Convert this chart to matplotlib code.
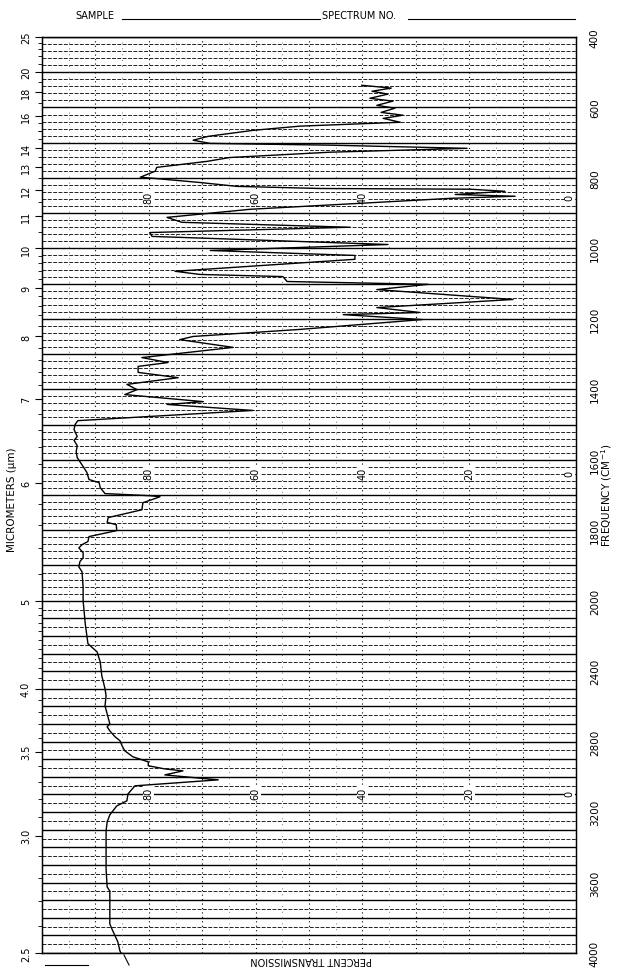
import numpy as np
import matplotlib.pyplot as plt
from matplotlib.lines import Line2D

# 光谱数据: 波数 (cm-1) 与透过率 (%), 从扫描图读取
wavenumber = [537, 545, 554, 562, 574, 582, 594, 602, 614, 622, 631, 642, 653, 665,
              682, 693, 702, 707, 716, 727, 742, 753, 770, 781, 798, 801, 813, 824,
              830, 832, 838, 847, 852, 858, 869, 889, 912, 926, 940, 955, 966, 989,
              1006, 1020, 1031, 1065, 1074, 1080, 1094, 1102, 1117, 1145, 1168, 1182,
              1188, 1202, 1230, 1250, 1259, 1281, 1310, 1324, 1335, 1352, 1367, 1386,
              1401, 1415, 1435, 1443, 1460, 1489, 1500, 1514, 1534, 1545, 1560, 1577,
              1594, 1619, 1636, 1656, 1665, 1679, 1696, 1702, 1705, 1722, 1742, 1764,
              1778, 1784, 1801, 1818, 1832, 1841, 1850, 1864, 1878, 1889, 1904, 1918,
              1963, 2000, 2131, 2244, 2290, 2347, 2426, 2500, 2540, 2597, 2642, 2699,
              2716, 2739, 2773, 2795, 2824, 2852, 2886, 2915, 2937, 2955, 2966, 2989,
              3017, 3051, 3097, 3136, 3165, 3216, 3256, 3307, 3523, 3625, 3648, 3835,
              3864, 3937, 3989, 4000]
transmission = [40.1, 34.6, 38.2, 35.2, 38.6, 34.3, 37.3, 33.9, 36.5, 32.4, 36.1, 32.9,
                51.7, 60.5, 68.9, 71.7, 68.5, 46.1, 20.4, 46.1, 64.8, 69.1, 78.5, 78.8,
                81.6, 79.2, 70.4, 63.5, 47.9, 19.8, 13.3, 22.6, 11.4, 23.6, 36.7, 61.0,
                76.6, 73.8, 42.3, 79.8, 79.4, 35.2, 68.5, 41.4, 41.4, 75.1, 70.4, 54.9,
                54.1, 27.7, 37.3, 11.8, 37.3, 29.2, 43.6, 28.8, 51.7, 71.7, 74.2, 64.2,
                81.3, 76.4, 82.0, 82.0, 74.5, 84.1, 82.2, 84.5, 69.8, 76.6, 60.5, 93.3,
                93.8, 94.0, 93.4, 94.0, 93.4, 93.6, 93.4, 92.3, 91.6, 91.2, 89.3, 89.1,
                88.2, 79.8, 77.9, 81.1, 81.3, 87.6, 87.8, 86.1, 86.0, 91.2, 91.4, 92.5,
                93.1, 92.3, 92.3, 92.9, 93.1, 92.5, 92.3, 92.3, 91.9, 91.4, 89.7, 89.1,
                88.8, 88.2, 88.0, 88.2, 87.8, 87.3, 87.8, 87.3, 86.3, 85.4, 85.0, 84.5,
                83.0, 80.1, 80.1, 77.0, 73.6, 77.0, 67.0, 82.6, 83.9, 84.1, 86.0, 87.3,
                87.8, 88.0, 88.0, 87.8, 87.3, 87.3, 86.9, 85.8, 85.4, 85.2]

# 刻度
micron_ticks = [25, 20, 18, 16, 14, 13, 12, 11, 10, 9, 8, 7, 6, 5, 4.0, 3.5, 3.0, 2.5]
micron_labels = ['25', '20', '18', '16', '14', '13', '12', '11', '10', '9', '8', '7',
                 '6', '5', '4.0', '3.5', '3.0', '2.5']
freq_ticks = [400, 600, 800, 1000, 1200, 1400, 1600, 1800, 2000, 2400, 2800, 3200,
              3600, 4000]
percent_rows = [855, 1636, 3091]
percent_row_labels = [[80, 60, 40, 0], [80, 60, 40, 20, 0], [80, 60, 40, 20, 0]]


def fwd(nu):
    nu = np.asarray(nu, dtype=float)
    return np.where(nu <= 2000, nu, 2000 + (nu - 2000) / 2)


def inv(u):
    u = np.asarray(u, dtype=float)
    return np.where(u <= 2000, u, 2000 + (u - 2000) * 2)


fig = plt.figure(figsize=(6.17, 9.70), dpi=100)
ax = fig.add_axes([42 / 617, 1 - 954 / 970, (576 - 42) / 617, (954 - 38) / 970])
ax.set_yscale('function', functions=(fwd, inv))
ax.set_ylim(4000, 400)
ax.set_xlim(100, 0)

# 横向网格: 低频每20, 高频每50, 整百为实线
grid_nu = list(range(400, 2000, 20)) + list(range(2000, 4001, 50))
for nu in grid_nu:
    if nu % 100 == 0:
        ax.axhline(nu, color='black', lw=1.0, zorder=1)
    else:
        ax.axhline(nu, color='#222222', lw=0.7, ls=(0, (4, 1.5)), zorder=1)

# 纵向点线网格
for t in range(5, 100, 5):
    if t % 10 == 0:
        ax.axvline(t, color='black', lw=0.8, ls=(0, (1, 3)), zorder=1)
    else:
        ax.axvline(t, color='#444444', lw=0.6, ls=(0, (1, 6)), zorder=1)

# 百分比标注
for nu, labels in zip(percent_rows, percent_row_labels):
    for t in labels:
        xpos = max(t, 1.2)
        ax.text(xpos, nu, str(t), rotation=90, ha='center', va='center', fontsize=7,
                zorder=2, bbox=dict(facecolor='white', edgecolor='none', pad=0.3))

ax.plot(transmission, wavenumber, color='black', lw=1.0, zorder=3)

# 左侧微米刻度
ax.set_xticks([])
ax.set_yticks([10000 / m for m in micron_ticks])
ax.set_yticklabels(micron_labels, rotation=90, va='center', fontsize=7)
minor_um = list(np.arange(2.6, 5.0, 0.1)) + list(np.arange(5.2, 10, 0.2)) + \
    list(np.arange(10.5, 16, 0.5)) + [15, 17, 19, 21, 22, 23, 24]
ax.set_yticks([10000 / m for m in minor_um], minor=True)
ax.tick_params(axis='y', which='major', length=5, width=0.8, pad=3)
ax.tick_params(axis='y', which='minor', length=3, width=0.6)
for s in ax.spines.values():
    s.set_linewidth(1.0)

# 右侧波数刻度
ax2 = ax.twinx()
ax2.set_yscale('function', functions=(fwd, inv))
ax2.set_ylim(4000, 400)
ax2.set_yticks(freq_ticks)
ax2.set_yticklabels([str(f) for f in freq_ticks], rotation=90, va='center', fontsize=7.5)
ax2.tick_params(axis='y', length=0, pad=10)
ax2.yaxis.set_minor_locator(plt.NullLocator())

fig.text(12 / 617, 1 - 500 / 970, 'MICROMETERS (\u00b5m)', rotation=90, ha='center',
         va='center', fontsize=7.5)
fig.text(607 / 617, 1 - 495 / 970, 'FREQUENCY (CM$^{-1}$)', rotation=90, ha='center',
         va='center', fontsize=7.5)
fig.text(311 / 617, 1 - 960 / 970, 'PERCENT TRANSMISSION', rotation=180, ha='center',
         va='center', fontsize=7)

# 表头
fig.text(75 / 617, 1 - 16 / 970, 'SAMPLE', ha='left', va='center', fontsize=7)
fig.text(322 / 617, 1 - 16 / 970, 'SPECTRUM NO.', ha='left', va='center', fontsize=7)
fig.add_artist(Line2D([122 / 617, 320 / 617], [1 - 20 / 970] * 2, color='black', lw=0.8))
fig.add_artist(Line2D([408 / 617, 575 / 617], [1 - 20 / 970] * 2, color='black', lw=0.8))
fig.add_artist(Line2D([45 / 617, 88 / 617], [1 - 966 / 970] * 2, color='black', lw=0.8))
fig.add_artist(Line2D([124 / 617, 129 / 617], [1 - 956 / 970, 1 - 966 / 970],
                      color='black', lw=0.8))

fig.savefig('out.png', dpi=100)
